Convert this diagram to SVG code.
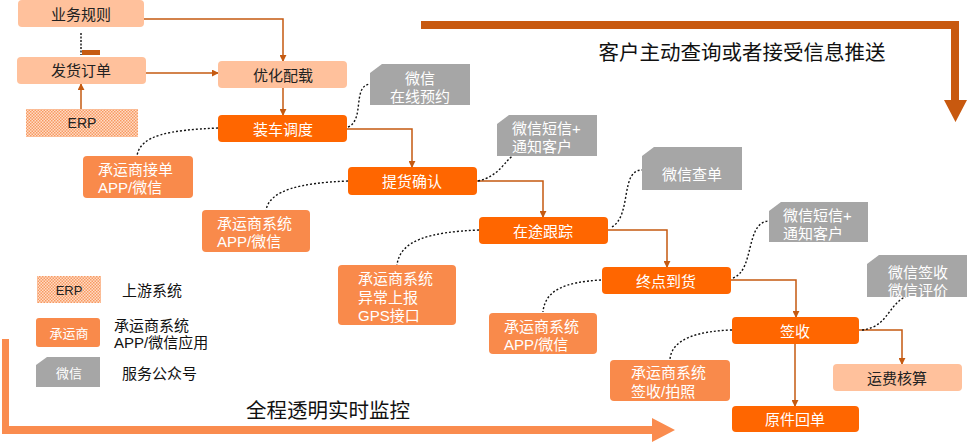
<svg xmlns="http://www.w3.org/2000/svg" width="968" height="443" viewBox="0 0 968 443">
<defs>
<marker id="arr" viewBox="0 0 8 8" refX="7" refY="4" markerWidth="7" markerHeight="7" markerUnits="userSpaceOnUse" orient="auto">
<path d="M0,0 L8,4 L0,8 Z" fill="#C55A11"/>
</marker>
<pattern id="chk" width="3" height="3" patternUnits="userSpaceOnUse">
<rect width="3" height="3" fill="#FFDCC6"/>
<rect width="1.5" height="1.5" fill="#F79A62"/>
<rect x="1.5" y="1.5" width="1.5" height="1.5" fill="#F79A62"/>
</pattern>
<style>
text{font-family:"Liberation Sans","Noto Sans CJK SC",sans-serif;}
.dark{fill:#FF6600;}
.peach{fill:#FFC19C;}
.carrier{fill:#F98A4B;}
.gray{fill:#A6A6A6;}
.erp{fill:url(#chk);}
.tw{fill:#FFFFFF;font-size:15px;}
.tb{fill:#222222;font-size:15px;}
.mid{text-anchor:middle;dominant-baseline:central;}
.lbl{fill:#111111;font-size:15px;}
.big{fill:#111111;font-size:20.5px;}
.conn{fill:none;stroke:#C55A11;stroke-width:1.5;marker-end:url(#arr);}
.dot{fill:none;stroke:#111111;stroke-width:1.4;stroke-dasharray:2 2;}
</style>
</defs>

<!-- big arrows -->
<g id="arrow-top">
<path d="M421,21 H959 V100 H967 L955.5,122 L944,100 H951 V29 H421 Z" fill="#C8590F"/>
</g>
<g id="arrow-bottom">
<path d="M2,339 H9 V426 H652 V418 L675,430 L652,442 V434 H2 Z" fill="#FA8C4F"/>
</g>
<text class="big" x="742" y="52" text-anchor="middle" dominant-baseline="central">客户主动查询或者接受信息推送</text>
<text class="big" x="328" y="410" text-anchor="middle" dominant-baseline="central">全程透明实时监控</text>

<!-- connectors -->
<g id="connectors">
<path class="conn" d="M144,19 H283 V61"/>
<path class="conn" d="M146,73 H218"/>
<path class="conn" d="M81,109 V84"/>
<path class="conn" d="M283,88 V115"/>
<path class="conn" d="M347,129 H412 V167"/>
<path class="conn" d="M477,181 H543 V217"/>
<path class="conn" d="M608,230 H667 V267"/>
<path class="conn" d="M731,280 H796 V317"/>
<path class="conn" d="M859,330 H902 V364"/>
<path class="conn" d="M795,344 V406"/>
<path d="M81,33 V55" fill="none" stroke="#111" stroke-width="1.4" stroke-dasharray="2 1.5"/>
<rect x="82" y="50" width="18" height="5" fill="#C55A11"/>
<path class="dot" d="M218,128 C170,130 140,135 137,156"/>
<path class="dot" d="M348,127 C365,120 352,86 370,84"/>
<path class="dot" d="M348,181 C300,183 270,190 266,210"/>
<path class="dot" d="M478,181 C500,176 505,160 513,156"/>
<path class="dot" d="M479,230 C430,232 400,240 397,265"/>
<path class="dot" d="M612,227 C632,215 620,170 642,170"/>
<path class="dot" d="M601,280 C565,282 545,290 543,312"/>
<path class="dot" d="M733,278 C755,270 745,222 769,221"/>
<path class="dot" d="M732,330 C700,331 672,338 670,359"/>
<path class="dot" d="M862,330 C895,326 885,293 926,292"/>
</g>

<!-- nodes -->
<g id="n-yewuguize"><rect class="peach" x="18" y="0" width="126" height="27" rx="4"/><text class="tb mid" x="81" y="14">业务规则</text></g>
<g id="n-fahuodingdan"><rect class="peach" x="17" y="57" width="129" height="27" rx="4"/><text class="tb mid" x="81" y="70">发货订单</text></g>
<g id="n-erp"><rect class="erp" x="26" y="109" width="112" height="28"/><text class="tb mid" x="82" y="123" style="font-size:14px">ERP</text></g>
<g id="n-youhua"><rect class="peach" x="218" y="61" width="129" height="27" rx="4"/><text class="tb mid" x="283" y="75">优化配载</text></g>
<g id="n-zhuangche"><rect class="dark" x="218" y="115" width="129" height="27" rx="4"/><text class="tw mid" x="283" y="129">装车调度</text></g>
<g id="n-tihuo"><rect class="dark" x="348" y="167" width="129" height="28" rx="4"/><text class="tw mid" x="412" y="181">提货确认</text></g>
<g id="n-zaitu"><rect class="dark" x="479" y="217" width="129" height="27" rx="4"/><text class="tw mid" x="543" y="231">在途跟踪</text></g>
<g id="n-zhongdian"><rect class="dark" x="602" y="267" width="129" height="27" rx="4"/><text class="tw mid" x="666" y="281">终点到货</text></g>
<g id="n-qianshou"><rect class="dark" x="732" y="317" width="127" height="27" rx="4"/><text class="tw mid" x="795" y="331">签收</text></g>
<g id="n-yuanjian"><rect class="dark" x="732" y="406" width="127" height="26" rx="4"/><text class="tw mid" x="795" y="419">原件回单</text></g>
<g id="n-yunfei"><rect class="peach" x="833" y="364" width="129" height="27" rx="4"/><text class="tb mid" x="897" y="378">运费核算</text></g>

<g id="c-jiedan"><rect class="carrier" x="83" y="156" width="110" height="42" rx="4"/><text class="tw" x="98" y="175">承运商接单</text><text class="tw" x="98" y="193">APP/微信</text></g>
<g id="c-xitong1"><rect class="carrier" x="202" y="210" width="108" height="42" rx="4"/><text class="tw" x="217" y="229">承运商系统</text><text class="tw" x="217" y="247">APP/微信</text></g>
<g id="c-gps"><rect class="carrier" x="338" y="265" width="118" height="60" rx="4"/><text class="tw" x="358" y="284">承运商系统</text><text class="tw" x="358" y="303">异常上报</text><text class="tw" x="358" y="321">GPS接口</text></g>
<g id="c-xitong2"><rect class="carrier" x="489" y="313" width="108" height="41" rx="4"/><text class="tw" x="504" y="332">承运商系统</text><text class="tw" x="504" y="350">APP/微信</text></g>
<g id="c-paizhao"><rect class="carrier" x="610" y="360" width="120" height="41" rx="4"/><text class="tw" x="631" y="378">承运商系统</text><text class="tw" x="631" y="397">签收/拍照</text></g>

<g id="w-yuyue"><path class="gray" d="M382,64 H470 V105 H370 V73 Z"/><text class="tw mid" x="420" y="78">微信</text><text class="tw mid" x="420" y="96">在线预约</text></g>
<g id="w-tongzhi1"><path class="gray" d="M509,115 H597 V156 H497 V124 Z"/><text class="tw" x="512" y="134">微信短信+</text><text class="tw" x="512" y="152">通知客户</text></g>
<g id="w-chadan"><path class="gray" d="M654,147 H742 V190 H642 V156 Z"/><text class="tw mid" x="692" y="174">微信查单</text></g>
<g id="w-tongzhi2"><path class="gray" d="M781,202 H868 V242 H769 V211 Z"/><text class="tw" x="783" y="221">微信短信+</text><text class="tw" x="783" y="239">通知客户</text></g>
<g id="w-qianshou"><path class="gray" d="M879,255 H967 V297 H867 V264 Z"/><text class="tw mid" x="918" y="272">微信签收</text><text class="tw mid" x="918" y="290">微信评价</text></g>

<!-- legend -->
<g id="legend-erp"><rect class="erp" x="37" y="276" width="64" height="27"/><text class="tb mid" x="69" y="290" style="font-size:13px">ERP</text><text class="lbl" x="122" y="290" dominant-baseline="central">上游系统</text></g>
<g id="legend-carrier"><rect class="carrier" x="36" y="318" width="64" height="29" rx="3"/><text class="tw mid" x="69" y="333" style="font-size:13px">承运商</text><text class="lbl" x="114" y="325" dominant-baseline="central">承运商系统</text><text class="lbl" x="114" y="342" dominant-baseline="central">APP/微信应用</text></g>
<g id="legend-wechat"><path class="gray" d="M47,357 H100 V387 H36 V365 Z"/><text class="tw mid" x="69" y="373" style="font-size:13px">微信</text><text class="lbl" x="122" y="373" dominant-baseline="central">服务公众号</text></g>
</svg>
